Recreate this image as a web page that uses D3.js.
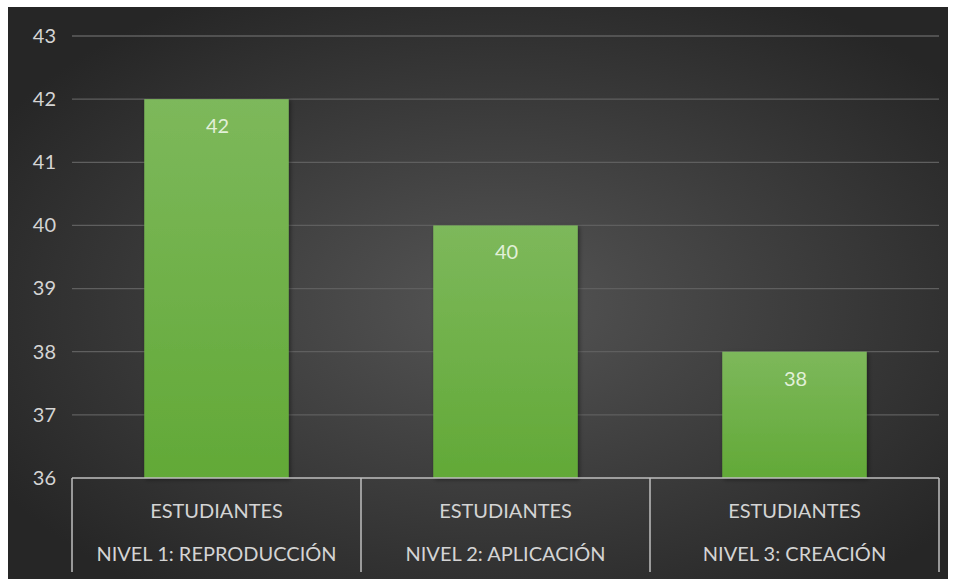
<!DOCTYPE html>
<html>
<head>
<meta charset="utf-8">
<script src="https://cdn.jsdelivr.net/npm/d3@7"></script>
<style>
  html, body { margin: 0; padding: 0; background: #ffffff; }
  svg { display: block; }
  text { font-family: Lato, "Open Sans", sans-serif; }
</style>
</head>
<body>
<svg id="chart" width="956" height="579"></svg>
<script>
// Data
const groupLabel = ["ESTUDIANTES", "ESTUDIANTES", "ESTUDIANTES"];
const categories = ["NIVEL 1: REPRODUCCIÓN", "NIVEL 2: APLICACIÓN", "NIVEL 3: CREACIÓN"];
const values = [42, 40, 38];
const yTicks = [36, 37, 38, 39, 40, 41, 42, 43];

const svg = d3.select("#chart");
const frame = { x: 8, y: 7, w: 940, h: 572 };
const plot = { left: 72, right: 939, top: 36, bottom: 478 };

const defs = svg.append("defs");
const bg = defs.append("radialGradient").attr("id", "bg")
  .attr("cx", "52%").attr("cy", "52%").attr("r", "62%");
bg.append("stop").attr("offset", "0%").attr("stop-color", "#555555");
bg.append("stop").attr("offset", "100%").attr("stop-color", "#262626");

const barGrad = defs.append("linearGradient").attr("id", "barGrad")
  .attr("x1", 0).attr("y1", 0).attr("x2", 0).attr("y2", 1);
barGrad.append("stop").attr("offset", "0%").attr("stop-color", "#7db85b");
barGrad.append("stop").attr("offset", "100%").attr("stop-color", "#62a937");

const shadow = defs.append("filter").attr("id", "shadow")
  .attr("x", "-10%").attr("y", "-10%").attr("width", "130%").attr("height", "130%");
shadow.append("feDropShadow").attr("dx", 1.5).attr("dy", 1.5)
  .attr("stdDeviation", 2).attr("flood-color", "#000").attr("flood-opacity", 0.45);

svg.append("rect")
  .attr("x", frame.x).attr("y", frame.y)
  .attr("width", frame.w).attr("height", frame.h)
  .attr("fill", "url(#bg)");

const x = d3.scaleBand().domain(categories)
  .range([plot.left, plot.right]).paddingInner(0).paddingOuter(0);
const y = d3.scaleLinear().domain([36, 43]).range([plot.bottom, plot.top]);

// Gridlines
svg.append("g").selectAll("line").data(yTicks.filter(t => t > 36)).join("line")
  .attr("x1", plot.left).attr("x2", plot.right)
  .attr("y1", d => y(d)).attr("y2", d => y(d))
  .attr("stroke", "#5f5f5f").attr("stroke-width", 1.3);

// Y axis labels
const yAxis = d3.axisLeft(y).tickValues(yTicks).tickFormat(d3.format("d"))
  .tickSize(0).tickPadding(16);
const gy = svg.append("g").attr("transform", `translate(${plot.left},0)`).call(yAxis);
gy.select(".domain").remove();
gy.selectAll("text").attr("fill", "#d4d4d4").attr("font-size", 20)
  .style("font-family", "Lato, 'Open Sans', sans-serif");

// Bars
const barW = x.bandwidth() * 0.5;
svg.append("g").selectAll("rect").data(values).join("rect")
  .attr("x", (d, i) => x(categories[i]) + (x.bandwidth() - barW) / 2)
  .attr("y", d => y(d))
  .attr("width", barW)
  .attr("height", d => y(36) - y(d))
  .attr("fill", "url(#barGrad)")
  .attr("filter", "url(#shadow)");

// Value labels
svg.append("g").selectAll("text").data(values).join("text")
  .attr("x", (d, i) => x(categories[i]) + x.bandwidth() / 2 + 1)
  .attr("y", d => y(d) + 34)
  .attr("text-anchor", "middle")
  .attr("fill", "#e2f0d9")
  .attr("font-size", 20)
  .text(d => d);

// Multi-level category axis
const axisColor = "#bfbfbf";
const ax = svg.append("g");
ax.append("line")
  .attr("x1", plot.left).attr("x2", plot.right)
  .attr("y1", plot.bottom).attr("y2", plot.bottom)
  .attr("stroke", axisColor).attr("stroke-width", 1.5);
const dividers = categories.map(c => x(c)).concat([plot.right]);
ax.selectAll("line.div").data(dividers).join("line").attr("class", "div")
  .attr("x1", d => d).attr("x2", d => d)
  .attr("y1", plot.bottom).attr("y2", 572)
  .attr("stroke", axisColor).attr("stroke-width", 1.5);

ax.selectAll("text.grp").data(groupLabel).join("text").attr("class", "grp")
  .attr("x", (d, i) => x(categories[i]) + x.bandwidth() / 2)
  .attr("y", 518)
  .attr("text-anchor", "middle")
  .attr("fill", "#d4d4d4").attr("font-size", 20)
  .text(d => d);

ax.selectAll("text.cat").data(categories).join("text").attr("class", "cat")
  .attr("x", d => x(d) + x.bandwidth() / 2)
  .attr("y", 561)
  .attr("text-anchor", "middle")
  .attr("fill", "#d4d4d4").attr("font-size", 20)
  .text(d => d);
</script>
</body>
</html>
